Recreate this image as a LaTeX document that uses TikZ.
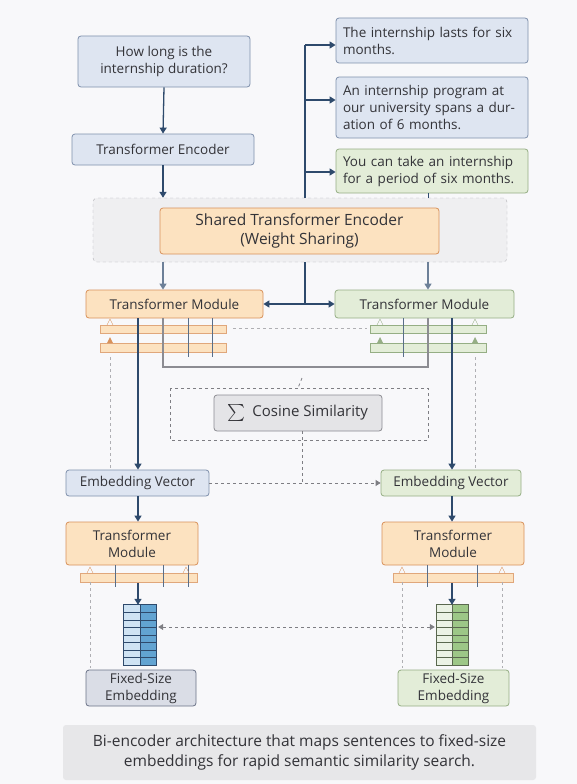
\documentclass[tikz,border=0pt]{standalone}
\usepackage{fontspec}
\usepackage{graphicx}
\setmainfont{Open Sans}
\usetikzlibrary{arrows.meta}

\definecolor{bgcol}{HTML}{F8F8FA}
\definecolor{bluefill}{HTML}{DEE5F1}
\definecolor{blueline}{HTML}{7E90AC}
\definecolor{orangefill}{HTML}{FCE2C0}
\definecolor{orangeline}{HTML}{D8915A}
\definecolor{greenfill}{HTML}{E3EDD8}
\definecolor{greenline}{HTML}{95AE84}
\definecolor{grayfill}{HTML}{E4E4E7}
\definecolor{grayline}{HTML}{8C8C92}
\definecolor{flowcol}{HTML}{2E4A6C}
\definecolor{txtcol}{HTML}{333338}
\definecolor{vecblueA}{HTML}{CFE3F3}
\definecolor{vecblueB}{HTML}{62A4D2}
\definecolor{vecgreenA}{HTML}{EBF2E5}
\definecolor{vecgreenB}{HTML}{9DC787}
\definecolor{fixfill}{HTML}{DADDE6}
\definecolor{fixline}{HTML}{6B7388}

\tikzset{
  box/.style={draw, rounded corners=3pt, line width=0.8pt, align=center,
    inner sep=2pt, text=txtcol, font=\fontsize{13.5}{17}\selectfont},
  bluebox/.style={box, fill=bluefill, draw=blueline},
  orangebox/.style={box, fill=orangefill, draw=orangeline},
  greenbox/.style={box, fill=greenfill, draw=greenline},
  graybox/.style={box, fill=grayfill, draw=grayline},
  answer/.style={align=left, text width=178pt},
  flow/.style={draw=flowcol, line width=1.3pt, -{Triangle[width=7pt,length=6pt]}},
  flowline/.style={draw=flowcol, line width=1.3pt},
  hint/.style={draw=grayline!70, dashed, line width=0.6pt},
  tick/.style={draw=flowcol!80, line width=0.9pt}
}

\begin{document}
\begin{tikzpicture}[x=1pt, y=-1pt]
    % Canvas
    \fill[bgcol] (0,0) rectangle (577,784);

    % Query side
    \node[bluebox, minimum width=172pt, minimum height=51pt] (query) at (164,61.5)
        {How long is the\\internship duration?};
    \node[bluebox, minimum width=182pt, minimum height=31pt] (enc) at (163,149.5)
        {Transformer Encoder};

    % Candidate sentences
    \node[bluebox, answer, minimum width=192pt, minimum height=45pt] (ans1) at (432,40.5)
        {The internship lasts for six\\months.};
    \node[bluebox, answer, minimum width=192pt, minimum height=61pt] (ans2) at (432,107.5)
        {An internship program at\\our university spans a dur-\\ation of 6 months.};
    \node[greenbox, answer, minimum width=192pt, minimum height=44pt] (ans3) at (432,171)
        {You can take an internship\\for a period of six months.};

    % Shared encoder region
    \node[draw=grayline!70, dashed, fill=grayfill!60, rounded corners=4pt,
        minimum width=414pt, minimum height=64pt] (region) at (300,230) {};
    \node[orangebox, font=\fontsize{15.5}{19}\selectfont, minimum width=279pt, minimum height=46pt]
        (shared) at (299.5,231) {Shared Transformer Encoder\\(Weight Sharing)};

    % Transformer modules
    \node[orangebox, minimum width=177pt, minimum height=28pt] (ltm) at (174.5,304) {Transformer Module};
    \node[greenbox, minimum width=179pt, minimum height=28pt] (rtm) at (424.5,304) {Transformer Module};

    % Layer bars
    \fill[orangefill, draw=orangeline!80] (100,325) rectangle (226,333);
    \fill[orangefill, draw=orangeline!80] (100,343) rectangle (226,352);
    \fill[greenfill, draw=greenline] (370,325) rectangle (486,333);
    \fill[greenfill, draw=greenline] (370,343) rectangle (486,352);
    \foreach \x in {188,212} \draw[tick] (\x,318) -- (\x,357);
    \foreach \x in {403} \draw[tick] (\x,318) -- (\x,357);
    \draw[orangeline] (107,325) -- (110,319) -- (113,325);
    \fill[orangeline] (107,343) -- (110,337) -- (113,343) -- cycle;
    \foreach \x in {380,475} {
        \draw[greenline] (\x-3,325) -- (\x,319) -- (\x+3,325);
        \fill[greenline] (\x-3,343) -- (\x,337) -- (\x+3,343) -- cycle;
    }
    \draw[hint] (233,328) -- (367,328);

    % Shared link bracket
    \draw[grayline, line width=1.5pt] (163,318) -- (163,367) -- (428,367) -- (428,318);

    % Cosine similarity
    \draw[grayline!90!black, dashed, line width=0.9pt] (170,388) rectangle (428,440);
    \node[graybox, font=\fontsize{15}{18}\selectfont, minimum width=168pt, minimum height=36pt] (cos) at (298,413)
        {\raisebox{-3pt}{\scalebox{1.7}{$\sum$}}\, Cosine Similarity};

    % Embedding vectors
    \node[bluebox, minimum width=143pt, minimum height=26pt] (lev) at (137.5,483) {Embedding Vector};
    \node[greenbox, minimum width=140pt, minimum height=26pt] (rev) at (451,483) {Embedding Vector};

    % Lower modules
    \node[orangebox, minimum width=132pt, minimum height=43pt] (ltm2) at (132,543.5) {Transformer\\Module};
    \node[orangebox, minimum width=142pt, minimum height=43pt] (rtm2) at (453,543.5) {Transformer\\Module};
    \fill[orangefill, draw=orangeline!80] (80,573) rectangle (197,582);
    \fill[orangefill, draw=orangeline!80] (393,573) rectangle (513,582);
    \foreach \x in {115,163,188,427,477} \draw[tick] (\x,565) -- (\x,587);
    \foreach \x in {90,186,402,502}
        \draw[orangeline] (\x-3,573) -- (\x,567) -- (\x+3,573);

    % Fixed-size vectors
    \node[minimum width=32pt, minimum height=60pt, inner sep=0pt] (lvec) at (140,635) {};
    \node[minimum width=31pt, minimum height=60pt, inner sep=0pt] (rvec) at (452.5,635) {};
    \fill[vecblueA] (lvec.north west) rectangle (lvec.south);
    \fill[vecblueB] (lvec.north) rectangle (lvec.south east);
    \fill[vecgreenA] (rvec.north west) rectangle (rvec.south);
    \fill[vecgreenB] (rvec.north) rectangle (rvec.south east);
    \foreach \v/\c in {lvec/flowcol, rvec/greenline!60!black} {
        \foreach \r in {1,...,7}
            \draw[\c, line width=0.5pt] ([yshift=-\r*7.5pt]\v.north west) -- ([yshift=-\r*7.5pt]\v.north east);
        \draw[\c, line width=0.8pt] (\v.north west) rectangle (\v.south east);
        \draw[\c, line width=0.8pt] (\v.north) -- (\v.south);
    }

    \node[box, fill=fixfill, draw=fixline, minimum width=110pt, minimum height=36pt] (lfix) at (141,688)
        {Fixed-Size\\Embedding};
    \node[greenbox, minimum width=111pt, minimum height=36pt] (rfix) at (453.5,688)
        {Fixed-Size\\Embedding};

    % Caption
    \node[box, draw=none, fill=grayfill!90, font=\fontsize{15.5}{20}\selectfont,
        minimum width=473pt, minimum height=55pt] (caption) at (299.5,752.5)
        {Bi-encoder architecture that maps sentences to fixed-size\\embeddings for rapid semantic similarity search.};

    % Connectors
    \coordinate (trunk) at (305,0);
    \coordinate (rin) at (428,0);
    \coordinate (lrail) at (138,0);
    \coordinate (rrail) at (452,0);
    \draw[flow] (query.south) -- (enc.north);
    \draw[flow] (enc.south) -- (enc.south |- region.north);
    \draw[flowline] (region.north -| trunk) -- ([yshift=-4.5pt]trunk |- ans1.west);
    \foreach \a/\dy in {ans1/4.5, ans2/-7.5, ans3/1}
        \draw[flow] ([yshift=-\dy pt]trunk |- \a.west) -- ([yshift=-\dy pt]\a.west);
    \draw[flowline, line width=1pt] (ans3.south -| rin) -- (region.north -| rin);
    \draw[flow, draw=flowcol!70] (region.south -| enc.south) -- (ltm.north -| enc.south);
    \draw[flow, draw=flowcol!70] (region.south -| rin) -- (rtm.north -| rin);
    \draw[flowline] (region.south -| trunk) -- (ltm.east -| trunk);
    \draw[flow, {Triangle[width=7pt,length=6pt]}-{Triangle[width=7pt,length=6pt]}] (ltm.east) -- (rtm.west);
    \draw[flow] (ltm.south -| lrail) -- (lev.north -| lrail);
    \draw[flow] (rtm.south -| rrail) -- (rev.north -| rrail);
    \draw[hint] (110,357) -- (110,470);
    \draw[hint] (475,357) -- (475,470);
    \draw[grayline!90!black, dashed, line width=0.8pt] (302,378) -- (cos.north |- 170,388);
    \draw[grayline!90!black, dashed, line width=0.8pt] (cos.south -| 302,0) -- (302,483);
    \draw[grayline!90!black, dashed, line width=0.8pt, -{Triangle[width=6pt,length=5pt]}] (lev.east) -- (rev.west);
    \draw[flow] (lev.south -| lrail) -- (ltm2.north -| lrail);
    \draw[flow] (rev.south -| rrail) -- (rtm2.north -| rrail);
    \draw[flow] (lvec.north -| lrail) ++(0,-22) -- (lvec.north -| lrail);
    \draw[flow] (rvec.north -| rrail) ++(0,-22) -- (rvec.north -| rrail);
    \draw[grayline!90!black, dashed, line width=0.7pt,
        {Triangle[width=6pt,length=5pt]}-{Triangle[width=6pt,length=5pt]}]
        ([yshift=8pt, xshift=2pt]lvec.east) -- ([yshift=8pt, xshift=-2pt]rvec.west);
    \draw[hint] (90,582) -- (90,668);
    \draw[hint] (402,582) -- (402,668);
    \draw[hint] (502,582) -- (502,668);
\end{tikzpicture}
\end{document}
